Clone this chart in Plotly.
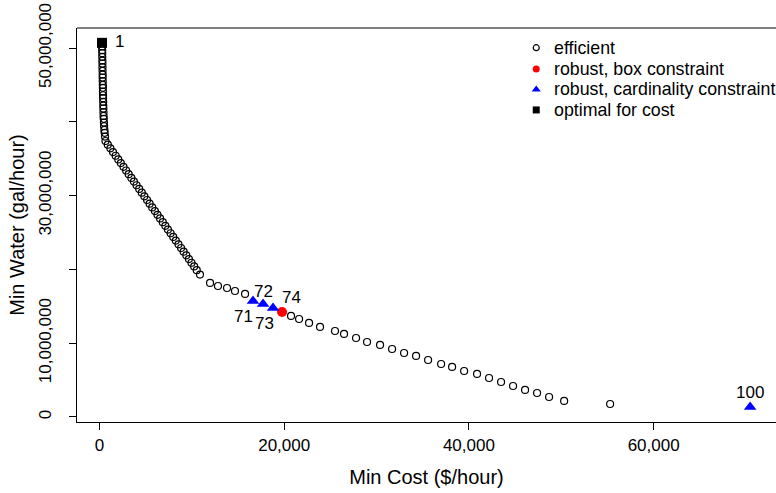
import plotly.graph_objects as go

# ---- data ----
cost = [
    270, 280, 290, 300, 300, 310, 320, 320, 330, 340, 340, 350, 360, 370,
    370, 380, 390, 400, 410, 420, 430, 440, 460, 480, 500, 530, 560, 600,
    650, 900, 1180, 1460, 1750, 2030, 2310, 2600, 2880, 3160, 3450, 3730,
    4010, 4300, 4580, 4860, 5150, 5430, 5710, 6000, 6280, 6560, 6850, 7130,
    7410, 7700, 7980, 8260, 8550, 8830, 9110, 9400, 9680, 9960, 10250, 10530,
    10880,
    11970, 12830, 13810, 14670, 15760,
    16620, 17710, 18790, 19770,
    20740, 21610, 22690, 23880, 25500, 26480, 27780, 28970, 30380, 31680,
    32980, 34280, 35580, 36990, 38180, 39480, 40880, 42180, 43480, 44780,
    46080, 47380, 48680, 50310, 55290,
    70450,
]
water = [
    50.7, 50.2, 49.7, 49.3, 48.8, 48.3, 47.9, 47.4, 46.9, 46.4, 46.0, 45.5,
    45.0, 44.6, 44.1, 43.6, 43.2, 42.7, 42.2, 41.8, 41.3, 40.8, 40.4, 39.9,
    39.4, 38.9, 38.5, 38.0,
    37.4, 36.9, 36.4, 35.9, 35.4, 34.9, 34.4, 33.9, 33.4, 32.9, 32.4, 31.9,
    31.4, 30.9, 30.4, 29.9, 29.4, 28.9, 28.4, 27.9, 27.4, 26.9, 26.4, 25.9,
    25.4, 24.9, 24.4, 23.9, 23.4, 22.9, 22.4, 21.9, 21.4, 20.9, 20.4, 19.9,
    19.3,
    18.16, 17.75, 17.48, 17.07, 16.67,
    15.72, 15.31, 14.77, 14.23,
    13.69, 13.28, 12.74, 12.20, 11.65, 11.25, 10.70, 10.16, 9.76, 9.21,
    8.67, 8.27, 7.72, 7.18, 6.78, 6.23, 5.83, 5.28, 4.74, 4.20,
    3.66, 3.25, 2.71, 2.17, 1.76,
    1.36,
]
water = [w * 1e6 for w in water]
point_ids = list(range(1, len(cost) + 1))

box_ids = [74]
card_ids = [71, 72, 73, 100]
opt_ids = [1]

x_ticks = [0, 20000, 40000, 60000]
x_tick_text = ["0", "20,000", "40,000", "60,000"]
y_ticks = [0, 10e6, 20e6, 30e6, 40e6, 50e6]
y_tick_text = ["0", "10,000,000", "", "30,000,000", "", "50,000,000"]

legend_labels = ["efficient", "robust, box constraint",
                 "robust, cardinality constraint", "optimal for cost"]

# label offsets in pixels (style)
label_shift = {1: (18, 1), 71: (-9, -16), 72: (0, 13), 73: (-9, -16),
               74: (9, 14), 100: (0, 14)}

FONT = "Liberation Sans, Arial, sans-serif"
FS = 17
LEG_FS = 17.8

def pick(ids):
    return [cost[i - 1] for i in ids], [water[i - 1] for i in ids]

eff_ids = [i for i in point_ids if i not in card_ids + box_ids]
ex, ey = pick(eff_ids)
bx, by = pick(box_ids)
cx, cy = pick(card_ids)
ox, oy = pick(opt_ids)

styles = [
    dict(symbol="circle-open", color="black", line=dict(width=1.2, color="black")),
    dict(symbol="circle", color="#ff0000"),
    dict(symbol="triangle-up", color="#0000ff"),
    dict(symbol="square", color="black"),
]
plot_sizes = [7, 10, 11, 10]
legend_sizes = [6, 7, 8, 7]

fig = go.Figure()
for (xs, ys), st, sz, nm in zip([(ex, ey), (bx, by), (cx, cy), (ox, oy)],
                                styles, plot_sizes, legend_labels):
    fig.add_trace(go.Scatter(x=xs, y=ys, mode="markers", name=nm,
                             marker=dict(size=sz, **st), showlegend=False))

# hand-drawn legend (keys on an overlay axis in paper-like units)
leg_x_key = 0.657
leg_x_text = 0.679
leg_y = [0.950, 0.896, 0.844, 0.792]
for st, sz, nm, yy in zip(styles, legend_sizes, legend_labels, leg_y):
    fig.add_trace(go.Scatter(x=[leg_x_key], y=[yy], mode="markers", name=nm,
                             marker=dict(size=sz, **st), showlegend=False,
                             xaxis="x2", yaxis="y2", cliponaxis=False,
                             hoverinfo="skip"))
    fig.add_annotation(xref="paper", yref="paper", x=leg_x_text, y=yy,
                       text=nm, showarrow=False, xanchor="left", yanchor="middle",
                       font=dict(family=FONT, size=LEG_FS, color="black"))

for pid, (dx, dy) in label_shift.items():
    fig.add_annotation(x=cost[pid - 1], y=water[pid - 1], text=str(pid),
                       showarrow=False, xshift=dx, yshift=dy,
                       font=dict(family=FONT, size=FS, color="black"))

# top frame line (right side lies outside the visible window)
fig.add_shape(type="line", xref="paper", yref="paper", x0=0, x1=1, y0=1, y1=1,
              line=dict(color="black", width=1))

fig.update_layout(
    width=776, height=493,
    margin=dict(l=77, r=0, t=28, b=71),
    paper_bgcolor="white", plot_bgcolor="white",
    font=dict(family=FONT, size=FS, color="black"),
    showlegend=False,
    xaxis=dict(range=[-2436, 73250], tickvals=x_ticks, ticktext=x_tick_text,
               showgrid=False, zeroline=False, showline=True, linecolor="black",
               linewidth=1, ticks="outside", ticklen=7, tickcolor="black",
               title=dict(text="Min Cost ($/hour)", standoff=15),
               ticklabelstandoff=1),
    yaxis=dict(range=[-0.68e6, 52.71e6], tickvals=y_ticks, ticktext=y_tick_text,
               showgrid=False, zeroline=False, showline=True, linecolor="black",
               linewidth=1, ticks="outside", ticklen=7, tickcolor="black",
               tickangle=-90,
               title=dict(text="Min Water (gal/hour)", standoff=6),
               ticklabelstandoff=11),
    xaxis2=dict(overlaying="x", range=[0, 1], visible=False, fixedrange=True),
    yaxis2=dict(overlaying="y", range=[0, 1], visible=False, fixedrange=True),
)

fig.write_html("out.html")
